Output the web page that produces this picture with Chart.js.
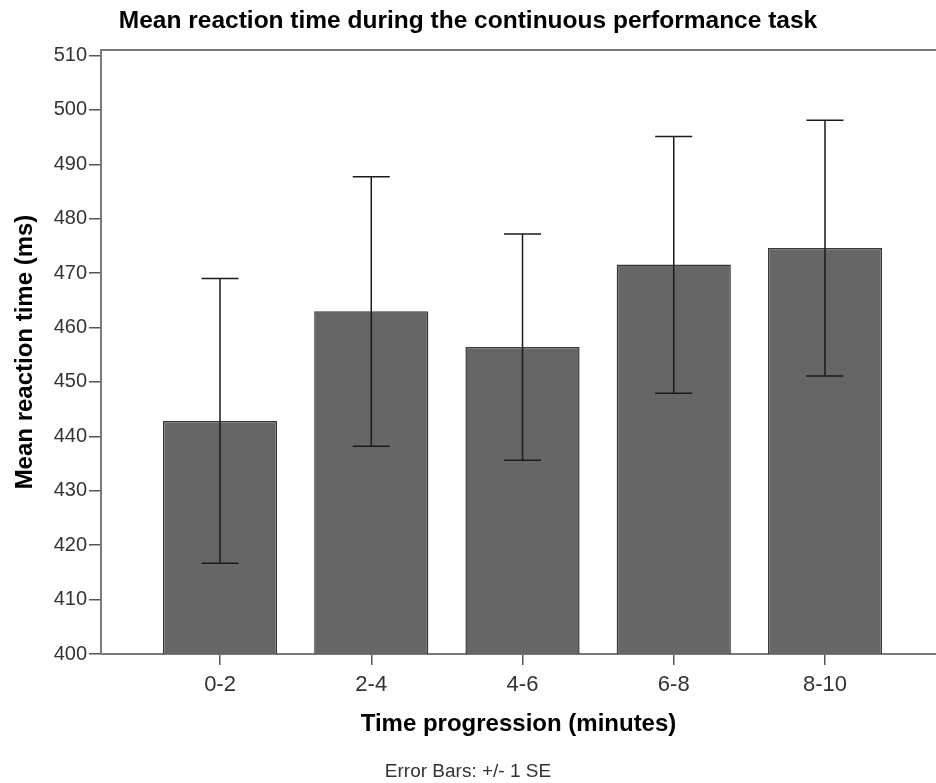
<!DOCTYPE html>
<html>
<head>
<meta charset="utf-8">
<title>Mean reaction time</title>
<script src="https://cdn.jsdelivr.net/npm/chart.js@4/dist/chart.umd.min.js"></script>
<style>
    body { margin: 0; background: #fff; }
    #wrap { width: 936px; height: 783px; position: relative; }
</style>
</head>
<body>
<div id="wrap"><canvas id="rt-chart"></canvas></div>
<script>
const categories = ['0-2', '2-4', '4-6', '6-8', '8-10'];
const meanRT = [442.8, 463.0, 456.4, 471.6, 474.6];
const seLower = [416.7, 438.2, 435.6, 447.9, 451.1];
const seUpper = [469.0, 487.7, 477.2, 495.1, 498.1];
const yTicks = [400, 410, 420, 430, 440, 450, 460, 470, 480, 490, 500, 510];

const FONT = "'Liberation Sans', Arial, sans-serif";
const AXIS_GREY = '#7a7a7a';

// +/- 1 SE whiskers with caps, drawn on top of the bars
const errorBars = {
    id: 'errorBars',
    afterDatasetsDraw(chart) {
        const { ctx, scales: { x, y } } = chart;
        const cap = 18.5;
        ctx.save();
        ctx.strokeStyle = '#1a1a1a';
        ctx.lineWidth = 1.5;
        categories.forEach((c, i) => {
            const px = x.getPixelForValue(i);
            const top = y.getPixelForValue(seUpper[i]);
            const bot = y.getPixelForValue(seLower[i]);
            ctx.beginPath();
            ctx.moveTo(px, top);
            ctx.lineTo(px, bot);
            ctx.moveTo(px - cap, top);
            ctx.lineTo(px + cap, top);
            ctx.moveTo(px - cap, bot);
            ctx.lineTo(px + cap, bot);
            ctx.stroke();
        });
        ctx.restore();
    }
};

// frame line along the top of the plot area
const topFrame = {
    id: 'topFrame',
    afterDraw(chart) {
        const { ctx, chartArea } = chart;
        ctx.save();
        ctx.strokeStyle = AXIS_GREY;
        ctx.lineWidth = 2;
        ctx.beginPath();
        ctx.moveTo(chartArea.left, chartArea.top);
        ctx.lineTo(chartArea.right, chartArea.top);
        ctx.stroke();
        ctx.restore();
    }
};

const ctx = document.getElementById('rt-chart').getContext('2d');

new Chart(ctx, {
    type: 'bar',
    data: {
        datasets: [{
            label: 'Mean reaction time (ms)',
            data: meanRT.map((v, i) => ({ x: i, y: v })),
            backgroundColor: '#666666',
            borderColor: '#383838',
            borderWidth: 1.5,
            categoryPercentage: 1,
            barPercentage: 0.755
        }]
    },
    options: {
        responsive: true,
        maintainAspectRatio: false,
        animation: false,
        layout: { padding: { left: 0, right: 0, top: 0, bottom: 0 } },
        plugins: {
            legend: { display: false },
            tooltip: { enabled: false },
            title: {
                display: true,
                text: 'Mean reaction time during the continuous performance task',
                color: '#000',
                font: { family: FONT, size: 24.5, weight: 'bold' },
                padding: { top: 6.3, bottom: 14.3 }
            },
            subtitle: {
                display: true,
                position: 'bottom',
                text: 'Error Bars: +/- 1 SE',
                color: '#333',
                font: { family: FONT, size: 19 },
                padding: { top: 0, bottom: 0 }
            }
        },
        scales: {
            x: {
                type: 'linear',
                offset: false,
                min: -0.787,
                max: 4.734,
                afterBuildTicks: scale => {
                    scale.ticks = categories.map((c, i) => ({ value: i }));
                },
                afterFit: scale => { scale.height = 106.2; },
                ticks: {
                    color: '#333',
                    font: { family: FONT, size: 22 },
                    padding: 7,
                    maxRotation: 0,
                    callback: value => categories[value]
                },
                grid: {
                    offset: false,
                    drawOnChartArea: false,
                    drawTicks: true,
                    tickLength: 11,
                    color: '#555',
                    lineWidth: 1.5
                },
                border: { display: true, color: AXIS_GREY, width: 2 },
                title: {
                    display: true,
                    text: 'Time progression (minutes)',
                    color: '#000',
                    font: { family: FONT, size: 24, weight: 'bold' },
                    padding: { top: 0, bottom: 21.5 }
                }
            },
            y: {
                min: 400,
                max: 511,
                afterBuildTicks: scale => {
                    scale.ticks = yTicks.map(v => ({ value: v }));
                },
                afterFit: scale => { scale.width = 101; },
                ticks: {
                    color: '#333',
                    font: { family: FONT, size: 20 },
                    padding: 2
                },
                grid: {
                    drawOnChartArea: false,
                    drawTicks: true,
                    tickLength: 12,
                    color: '#555',
                    lineWidth: 1.5
                },
                border: { display: true, color: AXIS_GREY, width: 2 },
                title: {
                    display: true,
                    text: 'Mean reaction time (ms)',
                    color: '#000',
                    font: { family: FONT, size: 24, weight: 'bold' },
                    padding: { top: 10.6, bottom: 0 }
                }
            }
        }
    },
    plugins: [errorBars, topFrame]
});
</script>
</body>
</html>
